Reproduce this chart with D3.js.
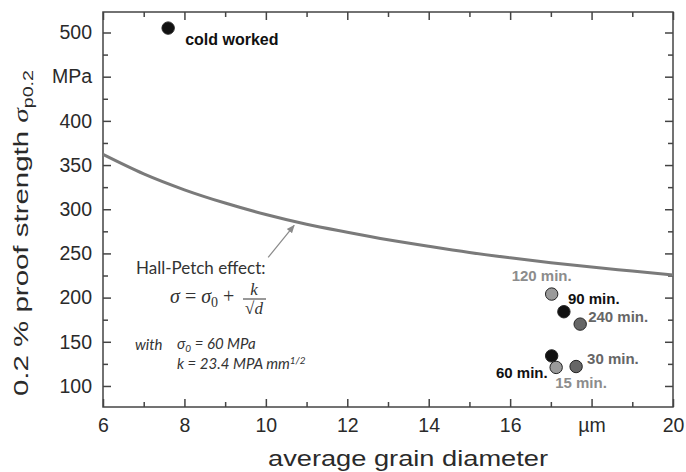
<!DOCTYPE html>
<html>
<head>
<meta charset="utf-8">
<script src="https://cdn.jsdelivr.net/npm/d3@7"></script>
<style>
  html, body { margin: 0; padding: 0; background: #fff; }
  svg { display: block; }
</style>
</head>
<body>
<svg id="chart" width="686" height="472"></svg>
<script>
// ---------- data ----------
const curveX = [6, 7, 8, 9, 10, 11, 12, 13, 14, 15, 16, 17, 18, 19, 20];
const curveY = [362, 340, 322, 307, 294, 283, 274, 265.5, 258, 251, 245, 239.5, 234.5, 230, 225.5];

const pointLabels = ["cold worked", "120 min.", "90 min.", "240 min.", "60 min.", "15 min.", "30 min."];
const pointX = [7.6, 17.02, 17.32, 17.72, 17.02, 17.13, 17.62];
const pointY = [505, 204, 184, 170, 134, 121, 122];

const xTickValues = [6, 8, 10, 12, 14, 16, 18, 20];
const xTickLabels = ["6", "8", "10", "12", "14", "16", "\u00b5m", "20"];
const yTickValues = [100, 150, 200, 250, 300, 350, 400, 450, 500];
const yTickLabels = ["100", "150", "200", "250", "300", "350", "400", "MPa", "500"];

// ---------- styling / layout ----------
const W = 686, H = 472;
const M = { left: 103, top: 12, right: 13, bottom: 65 };
const pointStyle = {
  "cold worked": { fill: "#111", text: "#111", anchor: "start", dx: 17, dy: 17 },
  "120 min.":    { fill: "#9a9a9a", text: "#8c8c8c", anchor: "end", dx: 20, dy: -13 },
  "90 min.":     { fill: "#111", text: "#111", anchor: "start", dx: 4, dy: -8 },
  "240 min.":    { fill: "#666", text: "#666", anchor: "start", dx: 8, dy: -2 },
  "60 min.":     { fill: "#111", text: "#111", anchor: "end", dx: -4, dy: 22 },
  "15 min.":     { fill: "#9a9a9a", text: "#8c8c8c", anchor: "start", dx: -1, dy: 21 },
  "30 min.":     { fill: "#666", text: "#666", anchor: "start", dx: 11, dy: -3 }
};

const svg = d3.select("#chart");
const x = d3.scaleLinear().domain([6, 20]).range([M.left, W - M.right]);
const y = d3.scaleLinear().domain([76.2, 523.2]).range([H - M.bottom, M.top]);

const axisColor = "#444";
const tickFont = "Liberation Sans, Arial, sans-serif";

const xMinor = d3.range(7, 20, 2);
const yMinor = d3.range(125, 500, 50);

function styleAxis(g) {
  g.select(".domain").remove();
  g.selectAll(".tick line").attr("stroke", axisColor).attr("stroke-width", 1.5);
  g.selectAll(".tick text").attr("fill", "#2a2a2a").attr("font-size", 19.5).attr("font-family", tickFont);
}

// bottom axis
svg.append("g").attr("transform", `translate(0,${H - M.bottom})`)
  .call(d3.axisBottom(x).tickValues(xTickValues).tickFormat((d, i) => xTickLabels[i]).tickSize(-8).tickPadding(11))
  .call(styleAxis);
svg.append("g").attr("transform", `translate(0,${H - M.bottom})`)
  .call(d3.axisBottom(x).tickValues(xMinor).tickFormat("").tickSize(-5))
  .call(styleAxis);
// top axis
svg.append("g").attr("transform", `translate(0,${M.top})`)
  .call(d3.axisTop(x).tickValues(xTickValues).tickFormat("").tickSize(-8))
  .call(styleAxis);
svg.append("g").attr("transform", `translate(0,${M.top})`)
  .call(d3.axisTop(x).tickValues(xMinor).tickFormat("").tickSize(-5))
  .call(styleAxis);
// left axis
svg.append("g").attr("transform", `translate(${M.left},0)`)
  .call(d3.axisLeft(y).tickValues(yTickValues).tickFormat((d, i) => yTickLabels[i]).tickSize(-8).tickPadding(11))
  .call(styleAxis);
svg.append("g").attr("transform", `translate(${M.left},0)`)
  .call(d3.axisLeft(y).tickValues(yMinor).tickFormat("").tickSize(-5))
  .call(styleAxis);
// right axis
svg.append("g").attr("transform", `translate(${W - M.right},0)`)
  .call(d3.axisRight(y).tickValues(yTickValues).tickFormat("").tickSize(-8))
  .call(styleAxis);
svg.append("g").attr("transform", `translate(${W - M.right},0)`)
  .call(d3.axisRight(y).tickValues(yMinor).tickFormat("").tickSize(-5))
  .call(styleAxis);

// frame
svg.append("rect")
  .attr("x", M.left).attr("y", M.top)
  .attr("width", W - M.left - M.right).attr("height", H - M.top - M.bottom)
  .attr("fill", "none").attr("stroke", axisColor).attr("stroke-width", 1.5);

// Hall-Petch curve
const curveData = curveX.map((d, i) => [d, curveY[i]]);
svg.append("path")
  .datum(curveData)
  .attr("fill", "none")
  .attr("stroke", "#7a7a7a")
  .attr("stroke-width", 3)
  .attr("d", d3.line().x(d => x(d[0])).y(d => y(d[1])).curve(d3.curveMonotoneX));

// arrow annotation
const defs = svg.append("defs");
defs.append("marker").attr("id", "arr").attr("viewBox", "0 0 10 10")
  .attr("refX", 9).attr("refY", 5).attr("markerWidth", 7).attr("markerHeight", 7)
  .attr("orient", "auto-start-reverse")
  .append("path").attr("d", "M0,1 L10,5 L0,9 Z").attr("fill", "#8a8a8a");
const tipX = 10.72, tipY = 284;
svg.append("line")
  .attr("x1", x(tipX) - 27).attr("y1", y(tipY) + 34)
  .attr("x2", x(tipX) - 1).attr("y2", y(tipY) + 2)
  .attr("stroke", "#8a8a8a").attr("stroke-width", 1.2)
  .attr("marker-end", "url(#arr)");

// annotation texts
const annoFont = "Lato, 'Open Sans', sans-serif";
svg.append("text").attr("x", 136).attr("y", 274)
  .attr("font-family", annoFont).attr("font-size", 17).attr("fill", "#333")
  .text("Hall-Petch effect:");

// formula
const mathFont = "'Liberation Serif', 'DejaVu Serif', serif";
const f = svg.append("text").attr("x", 170).attr("y", 303)
  .attr("font-family", mathFont).attr("font-size", 20).attr("fill", "#333");
f.append("tspan").attr("font-style", "italic").text("\u03c3");
f.append("tspan").text(" = ");
f.append("tspan").attr("font-style", "italic").text("\u03c3");
f.append("tspan").attr("font-size", 14).attr("dy", 4).text("0");
f.append("tspan").attr("dy", -4).text(" +");
svg.append("text").attr("x", 254).attr("y", 295).attr("text-anchor", "middle")
  .attr("font-family", mathFont).attr("font-size", 17).attr("font-style", "italic").attr("fill", "#333")
  .text("k");
svg.append("line").attr("x1", 243).attr("x2", 266).attr("y1", 299).attr("y2", 299)
  .attr("stroke", "#333").attr("stroke-width", 1);
const sq = svg.append("text").attr("x", 254).attr("y", 314).attr("text-anchor", "middle")
  .attr("font-family", mathFont).attr("font-size", 17).attr("fill", "#333");
sq.append("tspan").text("\u221a");
sq.append("tspan").attr("font-style", "italic").text("d");

// with ... text
const wFont = "Lato, 'Open Sans', sans-serif";
svg.append("text").attr("x", 135).attr("y", 350)
  .attr("font-family", wFont).attr("font-size", 15).attr("font-style", "italic").attr("fill", "#333")
  .text("with");
const s0 = svg.append("text").attr("x", 177).attr("y", 349)
  .attr("font-family", wFont).attr("font-size", 15).attr("font-style", "italic").attr("fill", "#333");
s0.append("tspan").text("\u03c3");
s0.append("tspan").attr("font-size", 10).attr("dy", 3).text("0");
s0.append("tspan").attr("dy", -3).text(" = 60 MPa");
const kt = svg.append("text").attr("x", 177).attr("y", 369)
  .attr("font-family", wFont).attr("font-size", 15).attr("font-style", "italic").attr("fill", "#333");
kt.append("tspan").text("k = 23.4 MPA mm");
kt.append("tspan").attr("font-size", 10).attr("dy", -5).text("1/2");

// points
const pts = pointLabels.map((l, i) => ({ label: l, x: pointX[i], y: pointY[i] }));
svg.append("g").selectAll("circle").data(pts).join("circle")
  .attr("cx", d => x(d.x)).attr("cy", d => y(d.y)).attr("r", 6.2)
  .attr("fill", d => pointStyle[d.label].fill)
  .attr("stroke", "#222").attr("stroke-width", 1);

svg.append("g").selectAll("text").data(pts).join("text")
  .attr("x", d => x(d.x) + pointStyle[d.label].dx)
  .attr("y", d => y(d.y) + pointStyle[d.label].dy)
  .attr("text-anchor", d => pointStyle[d.label].anchor)
  .attr("font-family", tickFont).attr("font-weight", "bold")
  .attr("font-size", d => d.label === "cold worked" ? 16 : 15)
  .attr("fill", d => pointStyle[d.label].text)
  .text(d => d.label);

// axis titles
svg.append("text").attr("x", 408).attr("y", 466).attr("text-anchor", "middle")
  .attr("font-family", tickFont).attr("font-size", 22).attr("fill", "#2a2a2a")
  .attr("textLength", 280).attr("lengthAdjust", "spacingAndGlyphs")
  .text("average grain diameter");

const yt = svg.append("text").attr("transform", "translate(28,233) rotate(-90)")
  .attr("text-anchor", "middle")
  .attr("font-family", tickFont).attr("font-size", 21).attr("fill", "#2a2a2a")
  .attr("textLength", 326).attr("lengthAdjust", "spacingAndGlyphs");
yt.append("tspan").text("0.2 % proof strength ");
yt.append("tspan").attr("font-family", mathFont).attr("font-style", "italic").text("\u03c3");
yt.append("tspan").attr("font-size", 14).attr("dy", 5).text("p0.2");
</script>
</body>
</html>
